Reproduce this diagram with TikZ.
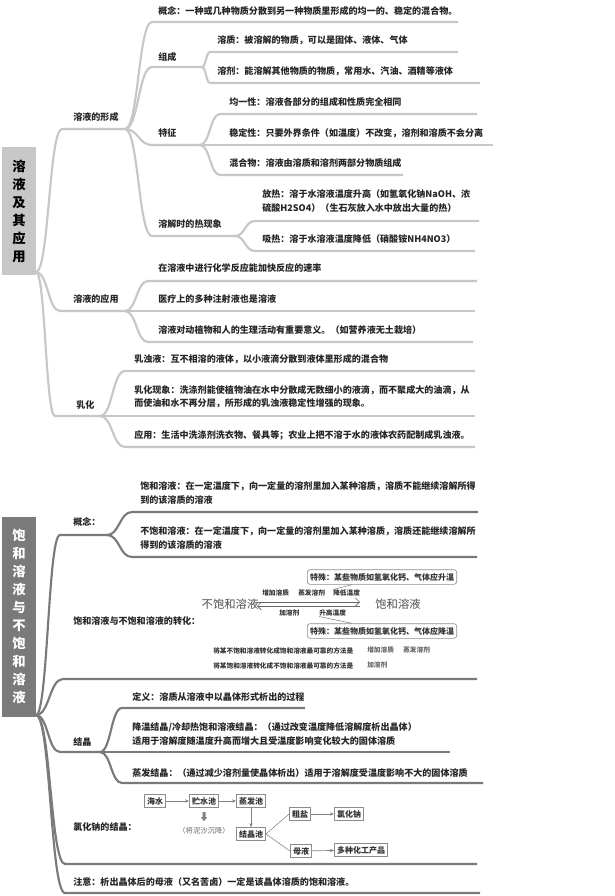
\documentclass[tikz,border=0pt]{standalone}
\usepackage{fontspec}
\setmainfont{Noto Sans CJK SC}
\usetikzlibrary{arrows.meta}
\begin{document}
\begin{tikzpicture}[x=0.75pt,y=-0.75pt,
  t/.style={anchor=west,inner sep=0,font=\fontsize{6.8}{10}\selectfont\bfseries,text=black!85,align=left},
  ts/.style={anchor=west,inner sep=0,font=\fontsize{5}{6}\selectfont\bfseries,text=black!80},
  tb/.style={anchor=center,inner sep=0,font=\fontsize{8.5}{10}\selectfont,text=black!70},
  b1/.style={draw=black!22,line width=1.6pt},
  b2/.style={draw=black!52,line width=1.6pt},
  fb/.style={draw=black!45,line width=0.5pt,inner sep=2pt,font=\fontsize{6}{7}\selectfont\bfseries,text=black!80},
  ar/.style={-{Stealth[length=3pt,width=2.5pt]},draw=black!50,line width=0.5pt}]
\newcommand\br[6]{\draw[#6] (#1,#2) .. controls ({(#1+#3)/2},#2) and ({(#1+#3)/2},#4) .. (#3,#4) -- (#5,#4);}
\useasboundingbox (0,0) rectangle (614,896);
\fill[white] (0,0) rectangle (614,896);
% ===== Section 1 =====
\node[fill=black!22,minimum width=34\pgflinewidth,inner sep=0,anchor=north west,minimum width=25.5pt,minimum height=96pt] (r1) at (2,147) {};
\node[inner sep=0,font=\fontsize{10}{13.5}\selectfont\bfseries,align=center] at (19,211) {溶\\液\\及\\其\\应\\用};
\br{36}{272}{62}{129}{125}{b1}
\br{36}{272}{60}{311}{125}{b1}
\br{36}{272}{55}{416}{100}{b1}
\node[t] at (73,117) {溶液的形成};
\node[t] at (73,299) {溶液的应用};
\node[t] at (76,405) {乳化};
% children of 形成
\br{125}{129}{152}{22}{458}{b1}
\br{125}{129}{152}{67}{202}{b1}
\br{125}{129}{152}{145}{200}{b1}
\br{125}{129}{152}{236}{235}{b1}
\node[t] at (158,11) {概念：一种或几种物质分散到另一种物质里形成的均一的、稳定的混合物。};
\node[t] at (158,57) {组成};
\node[t] at (158,133) {特征};
\node[t] at (158,224) {溶解时的热现象};
\br{202}{67}{210}{52}{458}{b1}
\br{202}{67}{210}{83}{480}{b1}
\node[t] at (217,40) {溶质：被溶解的物质，可以是固体、液体、气体};
\node[t] at (217,71) {溶剂：能溶解其他物质的物质，常用水、汽油、酒精等液体};
\br{200}{145}{220}{114}{477}{b1}
\br{200}{145}{220}{145}{493}{b1}
\br{200}{145}{220}{175}{403}{b1}
\node[t] at (229,102) {均一性：溶液各部分的组成和性质完全相同};
\node[t] at (229,133) {稳定性：只要外界条件（如温度）不改变，溶剂和溶质不会分离};
\node[t] at (229,163) {混合物：溶液由溶质和溶剂两部分物质组成};
\br{235}{236}{255}{221}{479}{b1}
\br{235}{236}{255}{251}{475}{b1}
\node[t] at (262,201) {放热：溶于水溶液温度升高（如氢氧化钠NaOH、浓\\硫酸H2SO4）（生石灰放入水中放出大量的热）};
\node[t] at (262,239) {吸热：溶于水溶液温度降低（硝酸铵NH4NO3）};
% children of 应用
\br{125}{311}{148}{281}{477}{b1}
\br{125}{311}{148}{311}{475}{b1}
\br{125}{311}{148}{342}{473}{b1}
\node[t] at (158,268) {在溶液中进行化学反应能加快反应的速率};
\node[t] at (158,299) {医疗上的多种注射液也是溶液};
\node[t] at (158,330) {溶液对动植物和人的生理活动有重要意义。（如营养液无土栽培）};
% children of 乳化
\br{100}{416}{125}{371}{475}{b1}
\br{100}{416}{125}{416}{475}{b1}
\br{100}{416}{125}{447}{475}{b1}
\node[t] at (134,359) {乳浊液：互不相溶的液体，以小液滴分散到液体里形成的混合物};
\node[t] at (134,397) {乳化现象：洗涤剂能使植物油在水中分散成无数细小的液滴，而不聚成大的油滴，从\\而使油和水不再分层，所形成的乳浊液稳定性增强的现象。};
\node[t] at (134,435) {应用：生活中洗涤剂洗衣物、餐具等；农业上把不溶于水的液体农药配制成乳浊液。};
% ===== Section 2 =====
\node[fill=black!52,inner sep=0,anchor=north west,minimum width=25.5pt,minimum height=150pt] (r2) at (2,517) {};
\node[inner sep=0,font=\fontsize{10}{13.5}\selectfont\bfseries,align=center,text=white] at (19,616) {饱\\和\\溶\\液\\与\\不\\饱\\和\\溶\\液};
\br{36}{715}{60}{535}{107}{b2}
\br{36}{715}{63}{679}{477}{b2}
\br{36}{715}{60}{752}{100}{b2}
\br{36}{715}{65}{864}{477}{b2}
\br{36}{715}{65}{893}{480}{b2}
\node[t] at (73,522) {概念：};
\node[t] at (73,621) {饱和溶液与不饱和溶液的转化：};
\node[t] at (73,742) {结晶};
\node[t] at (73,827) {氯化钠的结晶：};
\node[t] at (73,882) {注意：析出晶体后的母液（又名苦卤）一定是该晶体溶质的饱和溶液。};
% 概念
\br{107}{535}{132}{512}{478}{b2}
\br{107}{535}{132}{557}{477}{b2}
\node[t] at (140,493) {饱和溶液：在一定温度下，向一定量的溶剂里加入某种溶质，溶质不能继续溶解所得\\到的该溶质的溶液};
\node[t] at (140,538) {不饱和溶液：在一定温度下，向一定量的溶剂里加入某种溶质，溶质还能继续溶解所\\得到的该溶质的溶液};
% conversion
\node[tb] (ns) at (230,604) {不饱和溶液};
\node[tb] (sa) at (398,604) {饱和溶液};
\coordinate (a1) at (257,602); \coordinate (a2) at (360,602);
\coordinate (a3) at (360,606); \coordinate (a4) at (257,606);
\draw[-{Straight Barb[length=3pt]},black!60,line width=0.5pt] (a1) -- (a2);
\draw[-{Straight Barb[length=3pt]},black!60,line width=0.5pt] (a3) -- (a4);
\node[ts] at (262,593) {增加溶质};
\node[ts] at (298,593) {蒸发溶剂};
\node[ts] (jd) at (333,593) {降低温度};
\node[ts] at (279,613) {加溶剂};
\node[ts] (sg) at (319,613) {升高温度};
\node[fb,rounded corners=2pt,minimum width=100pt,minimum height=11pt] (bx1) at (382,577) {特殊：某些物质如氢氧化钙、气体应升温};
\node[fb,rounded corners=2pt,minimum width=100pt,minimum height=11pt] (bx2) at (382,631) {特殊：某些物质如氢氧化钙、气体应降温};
\draw[black!50,line width=0.4pt] (bx1.south)+(-30,0) -- (jd.north west);
\draw[black!50,line width=0.4pt] (sg.south west) -- ([xshift=-30*0.75pt]bx2.north);
\node[ts] at (213,651) {将某不饱和溶液转化成饱和溶液最可靠的方法是};
\node[ts,text=black!60] at (367,650) {增加溶质};
\node[ts,text=black!60] at (403,650) {蒸发溶剂};
\node[ts] at (213,666) {将某饱和溶液转化成不饱和溶液最可靠的方法是};
\node[ts,text=black!60] at (367,665) {加溶剂};
% 结晶
\br{100}{752}{122}{708}{305}{b2}
\br{100}{752}{122}{752}{450}{b2}
\br{100}{752}{122}{783}{483}{b2}
\node[t] at (132,697) {定义：溶质从溶液中以晶体形式析出的过程};
\node[t] at (132,734) {降温结晶/冷却热饱和溶液结晶：（通过改变温度降低溶解度析出晶体）\\适用于溶解度随温度升高而增大且受温度影响变化较大的固体溶质};
\node[t] at (132,773) {蒸发结晶：（通过减少溶剂量使晶体析出）适用于溶解度受温度影响不大的固体溶质};
% NaCl flow
\node[fb] (hs) at (155,801) {海水};
\node[fb] (zs) at (204,801) {贮水池};
\node[fb] (zf) at (251,801) {蒸发池};
\node[fb] (jj) at (251,834) {结晶池};
\node[fb] (cy) at (300,814) {粗盐};
\node[fb] (lh) at (349,814) {氯化钠};
\node[fb] (my) at (301,851) {母液};
\node[fb] (dz) at (361,850) {多种化工产品};
\node[inner sep=0,font=\fontsize{5.5}{6}\selectfont,text=black!60] (ns2) at (204,831) {（将泥沙沉降）};
\draw[ar] (hs) -- (zs);
\draw[ar] (zs) -- (zf);
\draw[ar] (zf) -- (jj);
\draw[black!50,line width=0.4pt] (jj.east) -- (cy.west);
\draw[black!50,line width=0.4pt] (jj.east) -- (my.west);
\draw[ar] (cy) -- (lh);
\draw[ar] (my) -- (dz);
\fill[black!50] (202.5,812) rectangle (205.5,817) -- (201,817) -- (204,821) -- (207,817) -- cycle;
\fill[black!50] (201,817) -- (207,817) -- (204,821) -- cycle;
\end{tikzpicture}
\end{document}
